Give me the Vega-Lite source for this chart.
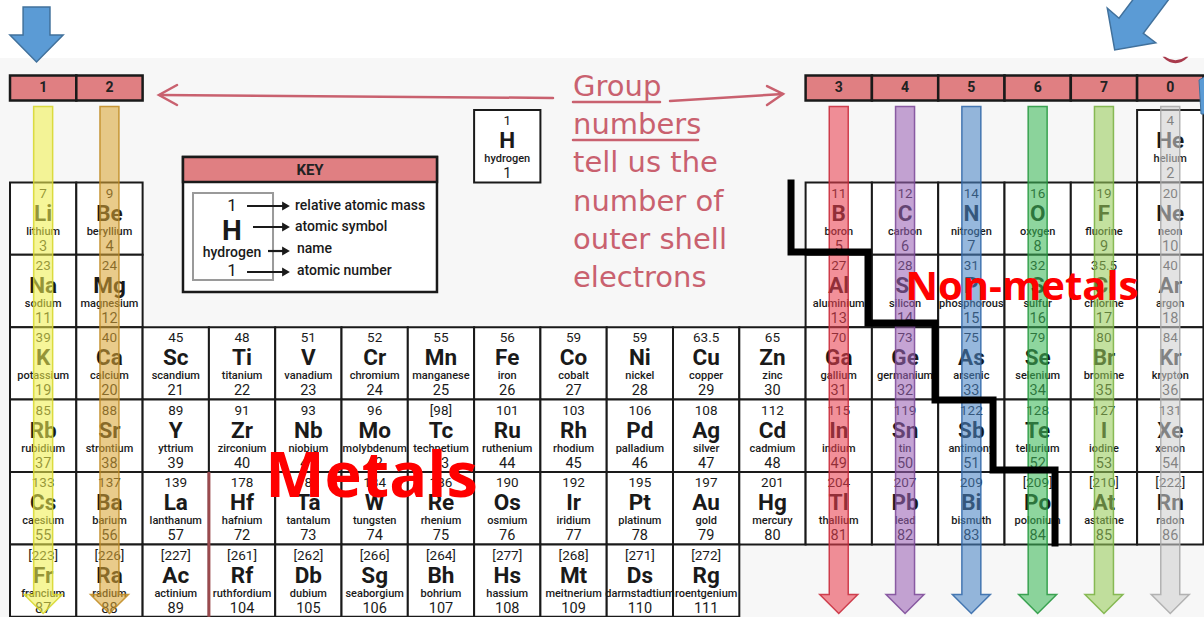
{
  "$schema": "https://vega.github.io/schema/vega-lite/v6.json",
  "width": 1204,
  "height": 617,
  "autosize": {"type": "none"},
  "padding": 0,
  "background": "#ffffff",
  "config": {"view": {"stroke": null}},
  "datasets": {
    "elements": [
      {"col": 8, "period": 1, "m": "1", "s": "H", "n": "hydrogen", "z": 1},
      {"col": 18, "period": 1, "m": "4", "s": "He", "n": "helium", "z": 2},
      {"col": 1, "period": 2, "m": "7", "s": "Li", "n": "lithium", "z": 3},
      {"col": 2, "period": 2, "m": "9", "s": "Be", "n": "beryllium", "z": 4},
      {"col": 13, "period": 2, "m": "11", "s": "B", "n": "boron", "z": 5},
      {"col": 14, "period": 2, "m": "12", "s": "C", "n": "carbon", "z": 6},
      {"col": 15, "period": 2, "m": "14", "s": "N", "n": "nitrogen", "z": 7},
      {"col": 16, "period": 2, "m": "16", "s": "O", "n": "oxygen", "z": 8},
      {"col": 17, "period": 2, "m": "19", "s": "F", "n": "fluorine", "z": 9},
      {"col": 18, "period": 2, "m": "20", "s": "Ne", "n": "neon", "z": 10},
      {"col": 1, "period": 3, "m": "23", "s": "Na", "n": "sodium", "z": 11},
      {"col": 2, "period": 3, "m": "24", "s": "Mg", "n": "magnesium", "z": 12},
      {"col": 13, "period": 3, "m": "27", "s": "Al", "n": "aluminium", "z": 13},
      {"col": 14, "period": 3, "m": "28", "s": "Si", "n": "silicon", "z": 14},
      {"col": 15, "period": 3, "m": "31", "s": "P", "n": "phosphorous", "z": 15},
      {"col": 16, "period": 3, "m": "32", "s": "S", "n": "sulfur", "z": 16},
      {"col": 17, "period": 3, "m": "35.5", "s": "Cl", "n": "chlorine", "z": 17},
      {"col": 18, "period": 3, "m": "40", "s": "Ar", "n": "argon", "z": 18},
      {"col": 1, "period": 4, "m": "39", "s": "K", "n": "potassium", "z": 19},
      {"col": 2, "period": 4, "m": "40", "s": "Ca", "n": "calcium", "z": 20},
      {"col": 3, "period": 4, "m": "45", "s": "Sc", "n": "scandium", "z": 21},
      {"col": 4, "period": 4, "m": "48", "s": "Ti", "n": "titanium", "z": 22},
      {"col": 5, "period": 4, "m": "51", "s": "V", "n": "vanadium", "z": 23},
      {"col": 6, "period": 4, "m": "52", "s": "Cr", "n": "chromium", "z": 24},
      {"col": 7, "period": 4, "m": "55", "s": "Mn", "n": "manganese", "z": 25},
      {"col": 8, "period": 4, "m": "56", "s": "Fe", "n": "iron", "z": 26},
      {"col": 9, "period": 4, "m": "59", "s": "Co", "n": "cobalt", "z": 27},
      {"col": 10, "period": 4, "m": "59", "s": "Ni", "n": "nickel", "z": 28},
      {"col": 11, "period": 4, "m": "63.5", "s": "Cu", "n": "copper", "z": 29},
      {"col": 12, "period": 4, "m": "65", "s": "Zn", "n": "zinc", "z": 30},
      {"col": 13, "period": 4, "m": "70", "s": "Ga", "n": "gallium", "z": 31},
      {"col": 14, "period": 4, "m": "73", "s": "Ge", "n": "germanium", "z": 32},
      {"col": 15, "period": 4, "m": "75", "s": "As", "n": "arsenic", "z": 33},
      {"col": 16, "period": 4, "m": "79", "s": "Se", "n": "selenium", "z": 34},
      {"col": 17, "period": 4, "m": "80", "s": "Br", "n": "bromine", "z": 35},
      {"col": 18, "period": 4, "m": "84", "s": "Kr", "n": "krypton", "z": 36},
      {"col": 1, "period": 5, "m": "85", "s": "Rb", "n": "rubidium", "z": 37},
      {"col": 2, "period": 5, "m": "88", "s": "Sr", "n": "strontium", "z": 38},
      {"col": 3, "period": 5, "m": "89", "s": "Y", "n": "yttrium", "z": 39},
      {"col": 4, "period": 5, "m": "91", "s": "Zr", "n": "zirconium", "z": 40},
      {"col": 5, "period": 5, "m": "93", "s": "Nb", "n": "niobium", "z": 41},
      {"col": 6, "period": 5, "m": "96", "s": "Mo", "n": "molybdenum", "z": 42},
      {"col": 7, "period": 5, "m": "[98]", "s": "Tc", "n": "technetium", "z": 43},
      {"col": 8, "period": 5, "m": "101", "s": "Ru", "n": "ruthenium", "z": 44},
      {"col": 9, "period": 5, "m": "103", "s": "Rh", "n": "rhodium", "z": 45},
      {"col": 10, "period": 5, "m": "106", "s": "Pd", "n": "palladium", "z": 46},
      {"col": 11, "period": 5, "m": "108", "s": "Ag", "n": "silver", "z": 47},
      {"col": 12, "period": 5, "m": "112", "s": "Cd", "n": "cadmium", "z": 48},
      {"col": 13, "period": 5, "m": "115", "s": "In", "n": "indium", "z": 49},
      {"col": 14, "period": 5, "m": "119", "s": "Sn", "n": "tin", "z": 50},
      {"col": 15, "period": 5, "m": "122", "s": "Sb", "n": "antimony", "z": 51},
      {"col": 16, "period": 5, "m": "128", "s": "Te", "n": "tellurium", "z": 52},
      {"col": 17, "period": 5, "m": "127", "s": "I", "n": "iodine", "z": 53},
      {"col": 18, "period": 5, "m": "131", "s": "Xe", "n": "xenon", "z": 54},
      {"col": 1, "period": 6, "m": "133", "s": "Cs", "n": "caesium", "z": 55},
      {"col": 2, "period": 6, "m": "137", "s": "Ba", "n": "barium", "z": 56},
      {"col": 3, "period": 6, "m": "139", "s": "La", "n": "lanthanum", "z": 57},
      {"col": 4, "period": 6, "m": "178", "s": "Hf", "n": "hafnium", "z": 72},
      {"col": 5, "period": 6, "m": "181", "s": "Ta", "n": "tantalum", "z": 73},
      {"col": 6, "period": 6, "m": "184", "s": "W", "n": "tungsten", "z": 74},
      {"col": 7, "period": 6, "m": "186", "s": "Re", "n": "rhenium", "z": 75},
      {"col": 8, "period": 6, "m": "190", "s": "Os", "n": "osmium", "z": 76},
      {"col": 9, "period": 6, "m": "192", "s": "Ir", "n": "iridium", "z": 77},
      {"col": 10, "period": 6, "m": "195", "s": "Pt", "n": "platinum", "z": 78},
      {"col": 11, "period": 6, "m": "197", "s": "Au", "n": "gold", "z": 79},
      {"col": 12, "period": 6, "m": "201", "s": "Hg", "n": "mercury", "z": 80},
      {"col": 13, "period": 6, "m": "204", "s": "Tl", "n": "thallium", "z": 81},
      {"col": 14, "period": 6, "m": "207", "s": "Pb", "n": "lead", "z": 82},
      {"col": 15, "period": 6, "m": "209", "s": "Bi", "n": "bismuth", "z": 83},
      {"col": 16, "period": 6, "m": "[209]", "s": "Po", "n": "polonium", "z": 84},
      {"col": 17, "period": 6, "m": "[210]", "s": "At", "n": "astatine", "z": 85},
      {"col": 18, "period": 6, "m": "[222]", "s": "Rn", "n": "radon", "z": 86},
      {"col": 1, "period": 7, "m": "[223]", "s": "Fr", "n": "francium", "z": 87},
      {"col": 2, "period": 7, "m": "[226]", "s": "Ra", "n": "radium", "z": 88},
      {"col": 3, "period": 7, "m": "[227]", "s": "Ac", "n": "actinium", "z": 89},
      {"col": 4, "period": 7, "m": "[261]", "s": "Rf", "n": "ruthfordium", "z": 104},
      {"col": 5, "period": 7, "m": "[262]", "s": "Db", "n": "dubium", "z": 105},
      {"col": 6, "period": 7, "m": "[266]", "s": "Sg", "n": "seaborgium", "z": 106},
      {"col": 7, "period": 7, "m": "[264]", "s": "Bh", "n": "bohrium", "z": 107},
      {"col": 8, "period": 7, "m": "[277]", "s": "Hs", "n": "hassium", "z": 108},
      {"col": 9, "period": 7, "m": "[268]", "s": "Mt", "n": "meitnerium", "z": 109},
      {"col": 10, "period": 7, "m": "[271]", "s": "Ds", "n": "darmstadtium", "z": 110},
      {"col": 11, "period": 7, "m": "[272]", "s": "Rg", "n": "roentgenium", "z": 111}
    ],
    "groups": [
      {"col": 1, "label": "1"}, {"col": 2, "label": "2"},
      {"col": 13, "label": "3"}, {"col": 14, "label": "4"}, {"col": 15, "label": "5"},
      {"col": 16, "label": "6"}, {"col": 17, "label": "7"}, {"col": 18, "label": "0"}
    ]
  },
  "layer": [
    {
      "data": {"values": [{"x": 0.349, "x2": 18.509, "y": -0.218, "y2": 7.503}]},
      "mark": {"type": "rect", "fill": "#f7f7f7"},
      "encoding": {
        "x": {"field": "x", "type": "quantitative", "scale": {"domain": [0.349, 18.509], "nice": false, "zero": false}, "axis": null},
        "x2": {"field": "x2"},
        "y": {"field": "y", "type": "quantitative", "scale": {"domain": [-1.019, 7.503], "nice": false, "zero": false, "reverse": true}, "axis": null},
        "y2": {"field": "y2"}
      }
    },
    {
      "data": {"name": "elements"},
      "mark": {"type": "point", "shape": "M-0.9158,-1L0.9158,-1L0.9158,1L-0.9158,1Z", "size": 5242, "filled": true, "fill": "#ffffff", "stroke": "#1a1a1a", "strokeWidth": 2, "opacity": 1},
      "encoding": {
        "x": {"field": "col", "type": "quantitative", "scale": {"domain": [0.349, 18.509], "nice": false, "zero": false}, "axis": null},
        "y": {"field": "period", "type": "quantitative", "scale": {"domain": [-1.019, 7.503], "nice": false, "zero": false, "reverse": true}, "axis": null}
      }
    },
    {
      "data": {"values": [{"x": 3.5, "y": 5.5, "y2": 7.5}]},
      "mark": {"type": "rule", "color": "#9a4a4e", "strokeWidth": 3},
      "encoding": {
        "x": {"field": "x", "type": "quantitative", "scale": {"domain": [0.349, 18.509], "nice": false, "zero": false}, "axis": null},
        "y": {"field": "y", "type": "quantitative", "scale": {"domain": [-1.019, 7.503], "nice": false, "zero": false, "reverse": true}, "axis": null},
        "y2": {"field": "y2"}
      }
    },
    {
      "data": {"name": "groups"},
      "mark": {"type": "point", "shape": "M-1,-0.377L1,-0.377L1,0.377L-1,0.377Z", "size": 4396, "filled": true, "fill": "#e07f82", "stroke": "#1a1a1a", "strokeWidth": 2.5, "opacity": 1},
      "encoding": {
        "x": {"field": "col", "type": "quantitative", "scale": {"domain": [0.349, 18.509], "nice": false, "zero": false}, "axis": null},
        "y": {"datum": 0.196, "type": "quantitative", "scale": {"domain": [-1.019, 7.503], "nice": false, "zero": false, "reverse": true}, "axis": null}
      }
    },
    {
      "data": {"name": "groups"},
      "mark": {"type": "text", "font": "Roboto", "fontSize": 14, "fontWeight": "bold", "color": "#222222", "baseline": "middle"},
      "encoding": {
        "x": {"field": "col", "type": "quantitative", "scale": {"domain": [0.349, 18.509], "nice": false, "zero": false}, "axis": null},
        "y": {"datum": 0.196, "type": "quantitative", "scale": {"domain": [-1.019, 7.503], "nice": false, "zero": false, "reverse": true}, "axis": null},
        "text": {"field": "label"}
      }
    },
    {
      "data": {"name": "elements"},
      "mark": {"type": "text", "font": "Roboto", "fontSize": 13.5, "color": "#1a1a1a", "baseline": "middle", "yOffset": -25},
      "encoding": {
        "x": {"field": "col", "type": "quantitative", "scale": {"domain": [0.349, 18.509], "nice": false, "zero": false}, "axis": null},
        "y": {"field": "period", "type": "quantitative", "scale": {"domain": [-1.019, 7.503], "nice": false, "zero": false, "reverse": true}, "axis": null},
        "text": {"field": "m"}
      }
    },
    {
      "data": {"name": "elements"},
      "mark": {"type": "text", "font": "Roboto", "fontSize": 22.5, "fontWeight": "bold", "color": "#1a1a1a", "baseline": "middle", "yOffset": -5},
      "encoding": {
        "x": {"field": "col", "type": "quantitative", "scale": {"domain": [0.349, 18.509], "nice": false, "zero": false}, "axis": null},
        "y": {"field": "period", "type": "quantitative", "scale": {"domain": [-1.019, 7.503], "nice": false, "zero": false, "reverse": true}, "axis": null},
        "text": {"field": "s"}
      }
    },
    {
      "data": {"name": "elements"},
      "mark": {"type": "text", "font": "Roboto", "fontWeight": 500, "color": "#1a1a1a", "baseline": "middle", "yOffset": 13},
      "encoding": {
        "x": {"field": "col", "type": "quantitative", "scale": {"domain": [0.349, 18.509], "nice": false, "zero": false}, "axis": null},
        "y": {"field": "period", "type": "quantitative", "scale": {"domain": [-1.019, 7.503], "nice": false, "zero": false, "reverse": true}, "axis": null},
        "text": {"field": "n"},
        "fontSize": {"condition": {"test": "indexof(['molybdenum','phosphorous','darmstadtium','roentgenium'], datum.n) >= 0", "value": 10}, "value": 12.3}
      }
    },
    {
      "data": {"name": "elements"},
      "mark": {"type": "text", "font": "Roboto", "fontSize": 14.5, "color": "#1a1a1a", "baseline": "middle", "yOffset": 28},
      "encoding": {
        "x": {"field": "col", "type": "quantitative", "scale": {"domain": [0.349, 18.509], "nice": false, "zero": false}, "axis": null},
        "y": {"field": "period", "type": "quantitative", "scale": {"domain": [-1.019, 7.503], "nice": false, "zero": false, "reverse": true}, "axis": null},
        "text": {"field": "z"}
      }
    },
    {
      "data": {"name": "groups"},
      "mark": {"type": "point", "shape": "M-0.0375,-1L0.0375,-1L0.0375,0.925L0.075,0.925L0,1L-0.075,0.925L-0.0375,0.925Z", "size": 257049, "filled": true, "opacity": 1, "fillOpacity": 0.58, "strokeOpacity": 0.85, "strokeWidth": 1.5},
      "encoding": {
        "x": {"field": "col", "type": "quantitative", "scale": {"domain": [0.349, 18.509], "nice": false, "zero": false}, "axis": null},
        "y": {"datum": 3.953, "type": "quantitative", "scale": {"domain": [-1.019, 7.503], "nice": false, "zero": false, "reverse": true}, "axis": null},
        "fill": {"field": "label", "type": "nominal", "legend": null, "scale": {"domain": ["1", "2", "3", "4", "5", "6", "7", "0"], "range": ["#f0f050", "#d9a536", "#e8404f", "#9b62b5", "#4a84c4", "#3cb858", "#98cc5a", "#cfcfcf"]}},
        "stroke": {"field": "label", "type": "nominal", "legend": null, "scale": {"domain": ["1", "2", "3", "4", "5", "6", "7", "0"], "range": ["#d6d628", "#c08a20", "#c82838", "#7a4696", "#2f66a8", "#23963d", "#78b040", "#a8a8a8"]}}
      }
    },
    {
      "data": {"values": [
        {"i": 0, "x": 12.280, "y": 1.508},
        {"i": 1, "x": 12.280, "y": 2.461},
        {"i": 2, "x": 13.441, "y": 2.461},
        {"i": 3, "x": 13.441, "y": 3.442},
        {"i": 4, "x": 14.452, "y": 3.442},
        {"i": 5, "x": 14.452, "y": 4.506},
        {"i": 6, "x": 15.327, "y": 4.506},
        {"i": 7, "x": 15.327, "y": 5.472},
        {"i": 8, "x": 16.262, "y": 5.472},
        {"i": 9, "x": 16.262, "y": 6.481}
      ]},
      "mark": {"type": "line", "color": "#000000", "strokeWidth": 7, "strokeJoin": "miter", "strokeCap": "square"},
      "encoding": {
        "x": {"field": "x", "type": "quantitative", "scale": {"domain": [0.349, 18.509], "nice": false, "zero": false}, "axis": null},
        "y": {"field": "y", "type": "quantitative", "scale": {"domain": [-1.019, 7.503], "nice": false, "zero": false, "reverse": true}, "axis": null},
        "order": {"field": "i", "type": "quantitative"}
      }
    },
    {
      "data": {"values": [{"x": 3.109, "x2": 6.940, "y": 1.149, "y2": 3.014}]},
      "mark": {"type": "rect", "fill": "#ffffff", "stroke": "#1a1a1a", "strokeWidth": 2.5},
      "encoding": {
        "x": {"field": "x", "type": "quantitative", "scale": {"domain": [0.349, 18.509], "nice": false, "zero": false}, "axis": null},
        "x2": {"field": "x2"},
        "y": {"field": "y", "type": "quantitative", "scale": {"domain": [-1.019, 7.503], "nice": false, "zero": false, "reverse": true}, "axis": null},
        "y2": {"field": "y2"}
      }
    },
    {
      "data": {"values": [{"x": 3.109, "x2": 6.940, "y": 1.149, "y2": 1.494}]},
      "mark": {"type": "rect", "fill": "#e07f82", "stroke": "#1a1a1a", "strokeWidth": 2.5},
      "encoding": {
        "x": {"field": "x", "type": "quantitative", "scale": {"domain": [0.349, 18.509], "nice": false, "zero": false}, "axis": null},
        "x2": {"field": "x2"},
        "y": {"field": "y", "type": "quantitative", "scale": {"domain": [-1.019, 7.503], "nice": false, "zero": false, "reverse": true}, "axis": null},
        "y2": {"field": "y2"}
      }
    },
    {
      "data": {"values": [{"x": 3.260, "x2": 4.467, "y": 1.646, "y2": 2.848}]},
      "mark": {"type": "rect", "fillOpacity": 0, "stroke": "#9a9a9a", "strokeWidth": 2},
      "encoding": {
        "x": {"field": "x", "type": "quantitative", "scale": {"domain": [0.349, 18.509], "nice": false, "zero": false}, "axis": null},
        "x2": {"field": "x2"},
        "y": {"field": "y", "type": "quantitative", "scale": {"domain": [-1.019, 7.503], "nice": false, "zero": false, "reverse": true}, "axis": null},
        "y2": {"field": "y2"}
      }
    },
    {
      "data": {"values": [{"x": 5.025, "y": 1.329, "t": "KEY"}]},
      "mark": {"type": "text", "font": "Roboto", "fontSize": 15, "fontWeight": "bold", "color": "#222222", "baseline": "middle"},
      "encoding": {
        "x": {"field": "x", "type": "quantitative", "scale": {"domain": [0.349, 18.509], "nice": false, "zero": false}, "axis": null},
        "y": {"field": "y", "type": "quantitative", "scale": {"domain": [-1.019, 7.503], "nice": false, "zero": false, "reverse": true}, "axis": null},
        "text": {"field": "t"}
      }
    },
    {
      "data": {"values": [{"x": 3.848, "y": 1.826, "t": "1"}, {"x": 3.848, "y": 2.724, "t": "1"}]},
      "mark": {"type": "text", "font": "Roboto", "fontSize": 17, "color": "#1a1a1a", "baseline": "middle"},
      "encoding": {
        "x": {"field": "x", "type": "quantitative", "scale": {"domain": [0.349, 18.509], "nice": false, "zero": false}, "axis": null},
        "y": {"field": "y", "type": "quantitative", "scale": {"domain": [-1.019, 7.503], "nice": false, "zero": false, "reverse": true}, "axis": null},
        "text": {"field": "t"}
      }
    },
    {
      "data": {"values": [{"x": 3.848, "y": 2.185, "t": "H"}]},
      "mark": {"type": "text", "font": "Roboto", "fontSize": 28, "fontWeight": "bold", "color": "#1a1a1a", "baseline": "middle"},
      "encoding": {
        "x": {"field": "x", "type": "quantitative", "scale": {"domain": [0.349, 18.509], "nice": false, "zero": false}, "axis": null},
        "y": {"field": "y", "type": "quantitative", "scale": {"domain": [-1.019, 7.503], "nice": false, "zero": false, "reverse": true}, "axis": null},
        "text": {"field": "t"}
      }
    },
    {
      "data": {"values": [{"x": 3.848, "y": 2.475, "t": "hydrogen"}]},
      "mark": {"type": "text", "font": "Roboto", "fontSize": 14, "fontWeight": 500, "color": "#1a1a1a", "baseline": "middle"},
      "encoding": {
        "x": {"field": "x", "type": "quantitative", "scale": {"domain": [0.349, 18.509], "nice": false, "zero": false}, "axis": null},
        "y": {"field": "y", "type": "quantitative", "scale": {"domain": [-1.019, 7.503], "nice": false, "zero": false, "reverse": true}, "axis": null},
        "text": {"field": "t"}
      }
    },
    {
      "data": {"values": [
        {"x": 4.799, "y": 1.826, "t": "relative atomic mass"},
        {"x": 4.799, "y": 2.116, "t": "atomic symbol"},
        {"x": 4.829, "y": 2.420, "t": "name"},
        {"x": 4.829, "y": 2.724, "t": "atomic number"}
      ]},
      "mark": {"type": "text", "font": "Roboto", "fontSize": 14, "fontWeight": 500, "color": "#1a1a1a", "baseline": "middle", "align": "left"},
      "encoding": {
        "x": {"field": "x", "type": "quantitative", "scale": {"domain": [0.349, 18.509], "nice": false, "zero": false}, "axis": null},
        "y": {"field": "y", "type": "quantitative", "scale": {"domain": [-1.019, 7.503], "nice": false, "zero": false, "reverse": true}, "axis": null},
        "text": {"field": "t"}
      }
    },
    {
      "data": {"values": [
        {"x": 4.075, "x2": 4.633, "y": 1.826},
        {"x": 4.165, "x2": 4.633, "y": 2.116},
        {"x": 4.391, "x2": 4.633, "y": 2.448},
        {"x": 4.075, "x2": 4.633, "y": 2.738}
      ]},
      "mark": {"type": "rule", "color": "#1a1a1a", "strokeWidth": 2.2},
      "encoding": {
        "x": {"field": "x", "type": "quantitative", "scale": {"domain": [0.349, 18.509], "nice": false, "zero": false}, "axis": null},
        "x2": {"field": "x2"},
        "y": {"field": "y", "type": "quantitative", "scale": {"domain": [-1.019, 7.503], "nice": false, "zero": false, "reverse": true}, "axis": null}
      }
    },
    {
      "data": {"values": [
        {"x": 4.663, "y": 1.826},
        {"x": 4.663, "y": 2.116},
        {"x": 4.663, "y": 2.448},
        {"x": 4.663, "y": 2.738}
      ]},
      "mark": {"type": "point", "shape": "triangle-right", "size": 80, "filled": true, "fill": "#1a1a1a", "opacity": 1},
      "encoding": {
        "x": {"field": "x", "type": "quantitative", "scale": {"domain": [0.349, 18.509], "nice": false, "zero": false}, "axis": null},
        "y": {"field": "y", "type": "quantitative", "scale": {"domain": [-1.019, 7.503], "nice": false, "zero": false, "reverse": true}, "axis": null}
      }
    },
    {
      "data": {"values": [
        {"id": "ls", "i": 0, "x": 8.690, "y": 0.334},
        {"id": "ls", "i": 1, "x": 2.762, "y": 0.293},
        {"id": "lh", "i": 0, "x": 3.019, "y": 0.155},
        {"id": "lh", "i": 1, "x": 2.747, "y": 0.293},
        {"id": "lh", "i": 2, "x": 3.019, "y": 0.431},
        {"id": "rs", "i": 0, "x": 10.455, "y": 0.376},
        {"id": "rs", "i": 1, "x": 12.159, "y": 0.279},
        {"id": "rh", "i": 0, "x": 11.918, "y": 0.169},
        {"id": "rh", "i": 1, "x": 12.159, "y": 0.279},
        {"id": "rh", "i": 2, "x": 11.918, "y": 0.431},
        {"id": "u1", "i": 0, "x": 8.992, "y": 0.390},
        {"id": "u1", "i": 1, "x": 10.304, "y": 0.390},
        {"id": "u2", "i": 0, "x": 8.992, "y": 0.914},
        {"id": "u2", "i": 1, "x": 10.877, "y": 0.914}
      ]},
      "mark": {"type": "line", "color": "#c9616f", "strokeWidth": 2.5, "strokeCap": "round"},
      "encoding": {
        "x": {"field": "x", "type": "quantitative", "scale": {"domain": [0.349, 18.509], "nice": false, "zero": false}, "axis": null},
        "y": {"field": "y", "type": "quantitative", "scale": {"domain": [-1.019, 7.503], "nice": false, "zero": false, "reverse": true}, "axis": null},
        "detail": {"field": "id", "type": "nominal"},
        "order": {"field": "i", "type": "quantitative"}
      }
    },
    {
      "data": {"values": [
        {"x": 8.992, "y": 0.307, "t": "Group"},
        {"x": 8.992, "y": 0.831, "t": "numbers"},
        {"x": 8.992, "y": 1.356, "t": "tell us the"},
        {"x": 8.992, "y": 1.895, "t": "number of"},
        {"x": 8.992, "y": 2.420, "t": "outer shell"},
        {"x": 8.992, "y": 2.945, "t": "electrons"}
      ]},
      "mark": {"type": "text", "font": "Comic Sans MS, DejaVu Sans", "fontSize": 29, "color": "#c9616f", "baseline": "alphabetic", "align": "left"},
      "encoding": {
        "x": {"field": "x", "type": "quantitative", "scale": {"domain": [0.349, 18.509], "nice": false, "zero": false}, "axis": null},
        "y": {"field": "y", "type": "quantitative", "scale": {"domain": [-1.019, 7.503], "nice": false, "zero": false, "reverse": true}, "axis": null},
        "text": {"field": "t"}
      }
    },
    {
      "data": {"values": [{"x": 5.952, "y": 5.845, "t": "Metals"}]},
      "mark": {"type": "text", "font": "Open Sans", "fontSize": 63, "fontWeight": "bold", "color": "#ff0000", "baseline": "alphabetic", "align": "center"},
      "encoding": {
        "x": {"field": "x", "type": "quantitative", "scale": {"domain": [0.349, 18.509], "nice": false, "zero": false}, "axis": null},
        "y": {"field": "y", "type": "quantitative", "scale": {"domain": [-1.019, 7.503], "nice": false, "zero": false, "reverse": true}, "axis": null},
        "text": {"field": "t"}
      }
    },
    {
      "data": {"values": [{"x": 15.764, "y": 3.124, "t": "Non-metals"}]},
      "mark": {"type": "text", "font": "Open Sans", "fontSize": 40, "fontWeight": "bold", "color": "#ff0000", "baseline": "alphabetic", "align": "center"},
      "encoding": {
        "x": {"field": "x", "type": "quantitative", "scale": {"domain": [0.349, 18.509], "nice": false, "zero": false}, "axis": null},
        "y": {"field": "y", "type": "quantitative", "scale": {"domain": [-1.019, 7.503], "nice": false, "zero": false, "reverse": true}, "axis": null},
        "text": {"field": "t"}
      }
    },
    {
      "data": {"values": [{"x": 0.900, "y": -0.543}]},
      "mark": {"type": "point", "shape": "M-0.48,-0.98L0.48,-0.98L0.48,0.02L0.95,0.02L0,0.98L-0.95,0.02L-0.48,0.02Z", "size": 3136, "filled": true, "fill": "#5b9bd5", "stroke": "#41719c", "strokeWidth": 1.5, "opacity": 1},
      "encoding": {
        "x": {"field": "x", "type": "quantitative", "scale": {"domain": [0.349, 18.509], "nice": false, "zero": false}, "axis": null},
        "y": {"field": "y", "type": "quantitative", "scale": {"domain": [-1.019, 7.503], "nice": false, "zero": false, "reverse": true}, "axis": null}
      }
    },
    {
      "data": {"values": [{"x": 17.544, "y": -0.743}]},
      "mark": {"type": "point", "shape": "M-0.633,0.75L-0.818,-0.293L-0.525,-0.043L0.075,-0.843L0.833,-0.668L0.083,0.333L0.393,0.568Z", "size": 6400, "filled": true, "fill": "#5b9bd5", "stroke": "#41719c", "strokeWidth": 1.5, "opacity": 1},
      "encoding": {
        "x": {"field": "x", "type": "quantitative", "scale": {"domain": [0.349, 18.509], "nice": false, "zero": false}, "axis": null},
        "y": {"field": "y", "type": "quantitative", "scale": {"domain": [-1.019, 7.503], "nice": false, "zero": false, "reverse": true}, "axis": null}
      }
    },
    {
      "data": {"values": [{"x": 18.079, "y": -0.218}]},
      "mark": {"type": "point", "shape": "M-1,-0.1Q0,0.9,1,-0.1L0.8,-0.1Q0,0.45,-0.8,-0.1Z", "size": 676, "filled": true, "fill": "#a83a4c", "opacity": 1},
      "encoding": {
        "x": {"field": "x", "type": "quantitative", "scale": {"domain": [0.349, 18.509], "nice": false, "zero": false}, "axis": null},
        "y": {"field": "y", "type": "quantitative", "scale": {"domain": [-1.019, 7.503], "nice": false, "zero": false, "reverse": true}, "axis": null}
      }
    },
    {
      "data": {"values": [{"x": 18.479, "y": 0.293}]},
      "mark": {"type": "point", "shape": "M-0.15,-0.75L0.2,-0.95L0.2,0.95L-0.05,0.95Z", "size": 1600, "filled": true, "fill": "#5b9bd5", "stroke": "#41719c", "strokeWidth": 1, "opacity": 1},
      "encoding": {
        "x": {"field": "x", "type": "quantitative", "scale": {"domain": [0.349, 18.509], "nice": false, "zero": false}, "axis": null},
        "y": {"field": "y", "type": "quantitative", "scale": {"domain": [-1.019, 7.503], "nice": false, "zero": false, "reverse": true}, "axis": null}
      }
    }
  ]
}
